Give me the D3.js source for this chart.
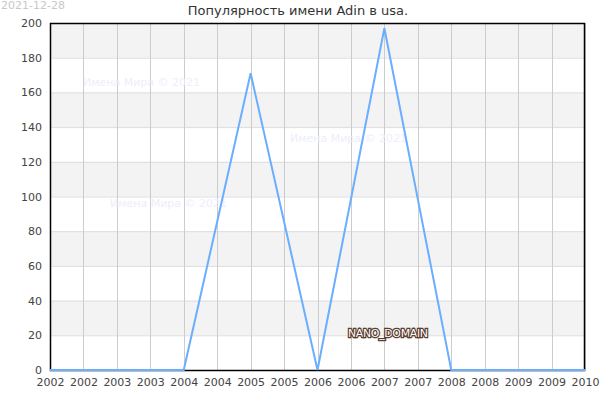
<!DOCTYPE html>
<html><head><meta charset="utf-8">
<script src="https://cdn.jsdelivr.net/npm/d3@7"></script>
<style>body{margin:0;background:#fff}svg{display:block;font-family:"DejaVu Sans",sans-serif}</style>
</head><body><svg id="c" width="600" height="400"></svg>
<script>
const years = [2002, 2003, 2004, 2005, 2006, 2007, 2008, 2009, 2010];
const values = [0, 0, 0, 171, 0, 197, 0, 0, 0];
const xTicks = [2002, 2002.5, 2003, 2003.5, 2004, 2004.5, 2005, 2005.5, 2006, 2006.5, 2007, 2007.5, 2008, 2008.5, 2009, 2009.5, 2010];
const yTicks = [0, 20, 40, 60, 80, 100, 120, 140, 160, 180, 200];
const title = "Популярность имени Adin в usa.";
const dateLabel = "2021-12-28";
const watermark = "Имена Мира © 2021";

const L = 50, R = 585, T = 23, B = 370;
const svg = d3.select("#c");
const x = d3.scaleLinear().domain([2002, 2010]).range([L, R]);
const y = d3.scaleLinear().domain([0, 200]).range([B, T]);

// bands
for (let i = 0; i < yTicks.length - 1; i++) {
  if (i % 2 === 1) {
    svg.append("rect").attr("x", L).attr("width", R - L)
      .attr("y", y(yTicks[i + 1])).attr("height", y(yTicks[i]) - y(yTicks[i + 1]))
      .attr("fill", "#f3f3f3");
  }
}
// horizontal grid
svg.append("g").selectAll("line").data(yTicks).join("line")
  .attr("x1", L).attr("x2", R).attr("y1", d => y(d) + 0.5).attr("y2", d => y(d) + 0.5)
  .attr("stroke", "#dddddd");
// vertical grid
svg.append("g").selectAll("line").data(xTicks).join("line")
  .attr("y1", T).attr("y2", B).attr("x1", d => Math.round(x(d)) + 0.5).attr("x2", d => Math.round(x(d)) + 0.5)
  .attr("stroke", "#cccccc");

// watermarks
const wm = [[83, 86], [290, 142], [110, 207]];
svg.append("g").selectAll("text").data(wm).join("text")
  .attr("x", d => d[0]).attr("y", d => d[1]).text(watermark)
  .attr("font-size", 11).attr("fill", "#eeeefc");

// border
svg.append("rect").attr("x", L + 0.5).attr("y", T + 0.5).attr("width", R - L - 1).attr("height", B - T)
  .attr("fill", "none").attr("stroke", "#000").attr("stroke-width", 1.5);

// line
svg.append("path").datum(years.map((yr, i) => [yr, values[i]]))
  .attr("d", d3.line().x(d => x(d[0])).y(d => y(d[1])))
  .attr("fill", "none").attr("stroke", "#6aaeff").attr("stroke-width", 2);

// axes labels
const xAxis = d3.axisBottom(x).tickValues(xTicks).tickFormat(d => String(Math.floor(d))).tickSize(0).tickPadding(8);
const gx = svg.append("g").attr("transform", `translate(0,${B})`).call(xAxis);
gx.select(".domain").remove();
gx.selectAll("text").attr("font-size", 11).attr("fill", "#444").attr("font-family", "DejaVu Sans");

const yAxis = d3.axisLeft(y).tickValues(yTicks).tickSize(0).tickPadding(8);
const gy = svg.append("g").attr("transform", `translate(${L},0)`).call(yAxis);
gy.select(".domain").remove();
gy.selectAll("text").attr("font-size", 11).attr("fill", "#444").attr("font-family", "DejaVu Sans");

// title
svg.append("text").attr("x", 298).attr("y", 15).attr("text-anchor", "middle")
  .attr("font-size", 13).attr("fill", "#333").text(title);
svg.append("text").attr("x", 1).attr("y", 9).attr("font-size", 11).attr("fill", "#c8c8c8").text(dateLabel);

// NANO_DOMAIN
svg.append("text").attr("x", 348).attr("y", 337).attr("font-size", 11)
  .attr("fill", "#fff").attr("stroke", "#5a3d2e").attr("stroke-width", 2.5).attr("paint-order", "stroke")
  .attr("textLength", 80).text("NANO_DOMAIN");
</script></body></html>
